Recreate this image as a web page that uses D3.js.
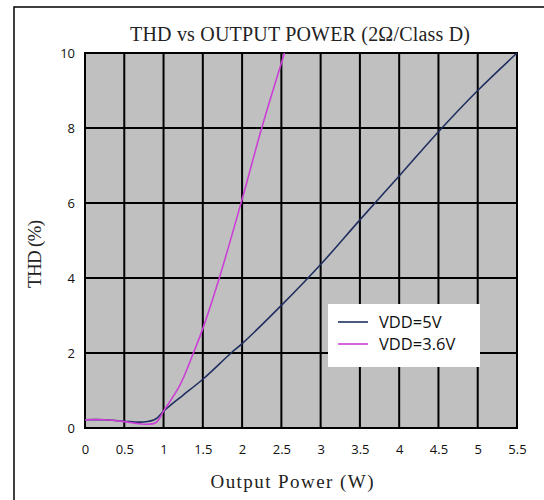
<!DOCTYPE html>
<html><head><meta charset="utf-8">
<script src="https://cdn.jsdelivr.net/npm/d3@7"></script>
<style>body{margin:0;background:#fff}</style>
</head><body>
<svg id="c" width="544" height="500"></svg>
<script>
const xTicks = [0,0.5,1,1.5,2,2.5,3,3.5,4,4.5,5,5.5];
const yTicks = [0,2,4,6,8,10];
const seriesNames = ["VDD=5V","VDD=3.6V"];
const seriesColors = ["#1f2f5f","#cc3fd6"];
const power5V  = [0,0.25,0.5,0.75,0.9,1.0,1.1,1.25,1.5,1.86,2,2.5,3,3.5,4,4.5,5,5.5];
const thd5V    = [0.22,0.22,0.18,0.16,0.24,0.45,0.63,0.88,1.3,2.0,2.25,3.27,4.36,5.55,6.72,7.9,9.0,10.0];
const power36V = [0,0.25,0.5,0.75,0.9,1.0,1.21,1.38,1.5,1.71,2.0,2.25,2.54];
const thd36V   = [0.22,0.22,0.17,0.1,0.14,0.45,1.15,2.0,2.65,4.0,6.1,8.0,10.0];

const svg = d3.select("#c");
const L=85,R=517,T=53,B=428;
const x = d3.scaleLinear().domain([0,5.5]).range([L,R]);
const y = d3.scaleLinear().domain([0,10]).range([B,T]);

// outer frame
svg.append("rect").attr("x",14).attr("y",7).attr("width",560).attr("height",520)
  .attr("fill","#fff").attr("stroke","#000").attr("stroke-width",1.5);

// plot bg
svg.append("rect").attr("x",L).attr("y",T).attr("width",R-L).attr("height",B-T).attr("fill","#c0c0c0");

// grid
svg.append("g").selectAll("line").data(xTicks).join("line")
  .attr("x1",d=>x(d)).attr("x2",d=>x(d)).attr("y1",T).attr("y2",B)
  .attr("stroke","#000").attr("stroke-width",2);
svg.append("g").selectAll("line").data(yTicks).join("line")
  .attr("y1",d=>y(d)).attr("y2",d=>y(d)).attr("x1",L).attr("x2",R)
  .attr("stroke","#000").attr("stroke-width",2);
svg.append("rect").attr("x",L).attr("y",T).attr("width",R-L).attr("height",B-T)
  .attr("fill","none").attr("stroke","#000").attr("stroke-width",2);

// axes labels via d3 axes
const xAxis = svg.append("g").attr("transform",`translate(0,${B})`)
  .call(d3.axisBottom(x).tickValues(xTicks).tickSize(0).tickPadding(17).tickFormat(d3.format("")));
const yAxis = svg.append("g").attr("transform",`translate(${L},0)`)
  .call(d3.axisLeft(y).tickValues(yTicks).tickSize(0).tickPadding(10).tickFormat(d3.format("")));
[xAxis,yAxis].forEach(a=>{
  a.select(".domain").remove();
  a.selectAll("text").attr("font-family","'Open Sans',sans-serif").attr("font-size",13).attr("fill","#111");
});

// lines
const line = d3.line().x(d=>x(d[0])).y(d=>y(d[1])).curve(d3.curveCatmullRom.alpha(0.5));
const data = [d3.zip(power5V,thd5V), d3.zip(power36V,thd36V)];
svg.append("g").selectAll("path").data(data).join("path")
  .attr("d",line).attr("fill","none")
  .attr("stroke",(d,i)=>seriesColors[i]).attr("stroke-width",1.6);

// titles
const serif = "'Liberation Serif','DejaVu Serif',serif";
svg.append("text").attr("x",300).attr("y",41).attr("text-anchor","middle")
  .attr("font-family",serif).attr("font-size",20).attr("fill","#222")
  .attr("textLength",340).attr("lengthAdjust","spacing")
  .text("THD vs OUTPUT POWER (2Ω/Class D)");
svg.append("text").attr("x",292).attr("y",488).attr("text-anchor","middle")
  .attr("font-family",serif).attr("font-size",19).attr("fill","#222")
  .attr("textLength",163).attr("lengthAdjust","spacing")
  .text("Output Power (W)");
svg.append("text").attr("transform","translate(41,254) rotate(-90)").attr("text-anchor","middle")
  .attr("font-family",serif).attr("font-size",19).attr("fill","#222")
  .attr("textLength",68).attr("lengthAdjust","spacing")
  .text("THD (%)");

// legend
const lg = svg.append("g");
lg.append("rect").attr("x",328).attr("y",304).attr("width",152).attr("height",63).attr("fill","#fff");
seriesNames.forEach((n,i)=>{
  const yy = 322 + i*22;
  lg.append("line").attr("x1",338).attr("x2",368).attr("y1",yy).attr("y2",yy)
    .attr("stroke",seriesColors[i]).attr("stroke-width",1.6);
  lg.append("text").attr("x",379).attr("y",yy+6).attr("font-family","'Open Sans',sans-serif")
    .attr("font-size",16.5).attr("fill","#111").text(n);
});
</script>
</body></html>
